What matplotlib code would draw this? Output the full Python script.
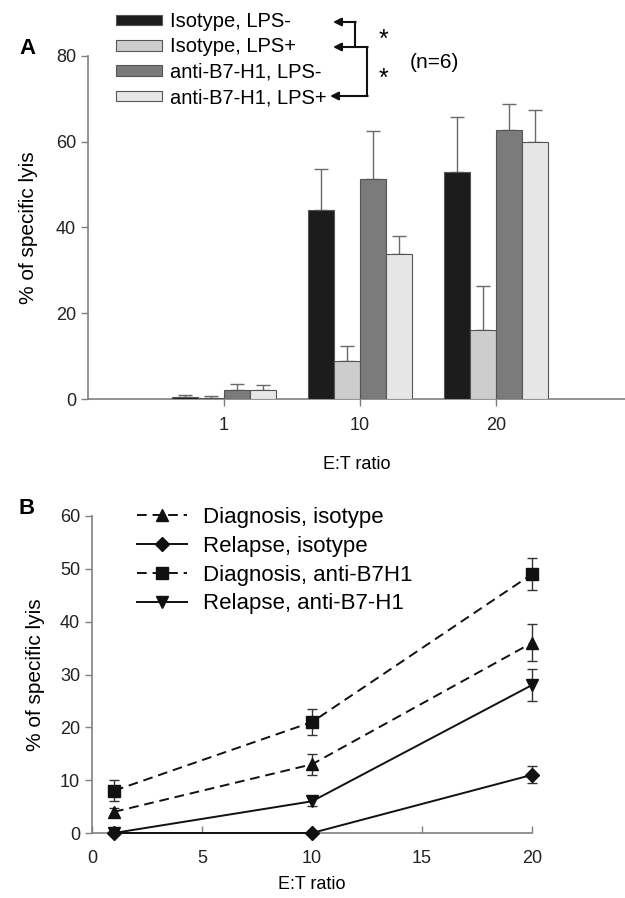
import matplotlib.pyplot as plt
import numpy as np
from matplotlib.patches import Patch
from matplotlib.lines import Line2D

plt.rcParams['font.family'] = ['Liberation Sans', 'DejaVu Sans']

W, H = 625, 898

# panel A data
ratios_a = ['1', '10', '20']
bar_labels = ['Isotype, LPS-', 'Isotype, LPS+', 'anti-B7-H1, LPS-', 'anti-B7-H1, LPS+']
bar_vals = [
    [0.5, 44.0, 53.0],
    [0.3, 8.9, 16.0],
    [2.0, 51.2, 62.8],
    [2.0, 33.8, 60.0],
]
bar_err = [
    [0.4, 9.6, 12.7],
    [0.3, 3.5, 10.3],
    [1.5, 11.4, 5.9],
    [1.2, 4.3, 7.3],
]
bar_colors = ['#1c1c1c', '#cdcdcd', '#7b7b7b', '#e6e6e6']

# panel B data
ratios_b = [1, 10, 20]
line_labels = ['Diagnosis, isotype', 'Relapse, isotype', 'Diagnosis, anti-B7H1', 'Relapse, anti-B7-H1']
line_vals = [
    [4, 13, 36],
    [0, 0, 11],
    [8, 21, 49],
    [0, 6, 28],
]
line_err = [
    [0.7, 2.0, 3.5],
    [0.0, 0.0, 1.6],
    [2.0, 2.5, 3.0],
    [0.0, 0.9, 3.0],
]
line_markers = ['^', 'D', 's', 'v']
line_dashed = [True, False, True, False]

grey = '#808080'


def px_axes(left, top, right, bottom):
    return fig.add_axes([left / W, 1 - bottom / H, (right - left) / W, (bottom - top) / H])


def fy(y):
    return H - y


fig = plt.figure(figsize=(6.25, 8.98), dpi=100)

# ---------- panel A ----------
ax = px_axes(88, 56, 625, 399)
x = np.arange(1, len(ratios_a) + 1)
bw = 0.19
handles = []
for i in range(4):
    xi = x + (i - 1.5) * bw
    ax.bar(xi, bar_vals[i], bw, color=bar_colors[i], edgecolor='#555555', linewidth=0.8, zorder=3)
    ax.errorbar(xi, bar_vals[i], yerr=[np.zeros(3), bar_err[i]], fmt='none', ecolor='#6a6a6a',
                elinewidth=1.0, capsize=5, capthick=1.0, zorder=2)
    handles.append(Patch(facecolor=bar_colors[i], edgecolor='#555555', linewidth=0.8))
ax.set_xlim(0, 3.95)
ax.set_ylim(0, 80)
ax.set_yticks([0, 20, 40, 60, 80])
ax.set_xticks(x)
ax.set_xticklabels(ratios_a)
ax.set_xlabel('E:T ratio', fontsize=13, labelpad=16)
ax.set_ylabel('% of specific lyis', fontsize=15, labelpad=13)
for s in ['top', 'right']:
    ax.spines[s].set_visible(False)
for s in ['left', 'bottom']:
    ax.spines[s].set_color(grey)
    ax.spines[s].set_linewidth(1.2)
ax.tick_params(axis='both', colors=grey, labelcolor='#222222', labelsize=13, length=5, width=1.0)
ax.tick_params(axis='x', pad=8)

fig.legend(handles, bar_labels, loc='upper left', bbox_to_anchor=(116 / W, 1 - 12 / H),
           frameon=False, fontsize=14.5, handlelength=2.3, handleheight=0.43,
           handletextpad=0.4, labelspacing=0.32, borderpad=0, borderaxespad=0)

# bracket arrows
arr = dict(arrowstyle='-|>', color='#111111', lw=1.5, mutation_scale=12, shrinkA=0, shrinkB=0)
fig.add_artist(plt.Line2D([355 / W, 355 / W], [fy(22) / H, fy(47) / H], color='#111111', lw=1.5))
fig.add_artist(plt.Line2D([367 / W, 367 / W], [fy(47) / H, fy(96) / H], color='#111111', lw=1.5))
ax.annotate('', xy=(333, fy(22)), xytext=(355.7, fy(22)), xycoords='figure pixels', arrowprops=arr)
ax.annotate('', xy=(333, fy(47)), xytext=(367.7, fy(47)), xycoords='figure pixels', arrowprops=arr)
ax.annotate('', xy=(330, fy(96)), xytext=(367.7, fy(96)), xycoords='figure pixels', arrowprops=arr)
fig.text(383 / W, 1 - 40 / H, '*', fontsize=18, ha='center', va='center')
fig.text(383 / W, 1 - 79 / H, '*', fontsize=18, ha='center', va='center')
fig.text(434 / W, 1 - 62 / H, '(n=6)', fontsize=15, ha='center', va='center')
fig.text(27 / W, 1 - 48 / H, 'A', fontsize=16, fontweight='bold', ha='center', va='center')

# ---------- panel B ----------
bx = px_axes(92, 516, 532, 833)
lhandles = []
for i in range(4):
    ls = (0, (5, 3)) if line_dashed[i] else '-'
    ms = 7 if line_markers[i] == 'D' else 8
    bx.errorbar(ratios_b, line_vals[i], yerr=line_err[i], color='#111111', ecolor='#333333',
                linestyle=ls, linewidth=1.4, marker=line_markers[i], markersize=ms,
                elinewidth=1.0, capsize=3.5, capthick=1.0, clip_on=False, zorder=3)
    lhandles.append(Line2D([], [], color='#111111', linestyle=ls, linewidth=1.4,
                           marker=line_markers[i], markersize=ms))
bx.set_xlim(0, 20)
bx.set_ylim(0, 60)
bx.set_xticks([0, 5, 10, 15, 20])
bx.set_yticks([0, 10, 20, 30, 40, 50, 60])
bx.set_xlabel('E:T ratio', fontsize=13, labelpad=7)
bx.set_ylabel('% of specific lyis', fontsize=15, labelpad=11)
for s in ['top', 'right']:
    bx.spines[s].set_visible(False)
for s in ['left', 'bottom']:
    bx.spines[s].set_color(grey)
    bx.spines[s].set_linewidth(1.2)
bx.tick_params(axis='both', colors=grey, labelcolor='#222222', labelsize=13, length=5, width=1.0)
bx.tick_params(axis='x', direction='in', pad=12)

bx.legend(lhandles, line_labels, loc='upper left', bbox_to_anchor=(137 / W, 1 - 507 / H),
          bbox_transform=fig.transFigure, frameon=False, fontsize=16, handlelength=2.25,
          handletextpad=0.7, labelspacing=0.35, borderpad=0, borderaxespad=0)
fig.text(27 / W, 1 - 508 / H, 'B', fontsize=16, fontweight='bold', ha='center', va='center')

fig.savefig('out.png', dpi=100)
